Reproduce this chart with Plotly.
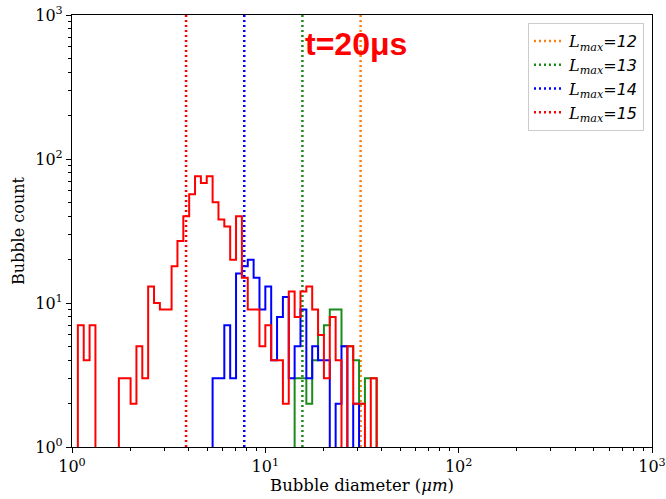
import numpy as np
import plotly.graph_objects as go

# ---- data -------------------------------------------------------------
# 99 log-spaced bins between 1 and 1000 um
bin_edges = np.logspace(0, 3, 100)

# histogram counts (bin index of first value, counts for consecutive bins)
green_start = 38   # L_max = 13
green_counts = [3, 3, 2, 4, 6, 7, 9, 9, 5, 5, 4, 2, 3, 3]

blue_start = 24    # L_max = 14
blue_counts = [3, 3, 7, 3, 16, 18, 20, 15, 9, 13, 4, 8, 11, 3, 5, 9, 3, 5, 4, 4,
               0, 2, 5, 0, 2]

red_start = 1      # L_max = 15
red_counts = [7, 4, 7, 0, 0, 0, 0, 3, 3, 2, 5, 3, 13, 10, 9, 9, 18, 27, 40, 57,
              76, 68, 76, 50, 38, 34, 20, 40, 15, 9, 9, 5, 7, 4, 4, 2, 12, 8, 12,
              13, 9, 6, 3, 8, 4, 0, 5, 2, 2, 0, 3]

# minimum resolved diameter for each L_max (vertical dotted lines)
lmax_levels = [12, 13, 14, 15]
lmax_diam = [31.1, 15.55, 7.78, 3.89]
lmax_colors = ["#ff7f0e", "#1a8c1a", "#0000ff", "#ff0000"]

x_tickvals = [1, 10, 100, 1000]
x_ticktext = ["10<sup>0</sup>", "10<sup>1</sup>", "10<sup>2</sup>", "10<sup>3</sup>"]
y_tickvals = [1, 10, 100, 1000]
y_ticktext = ["10<sup>0</sup>", "10<sup>1</sup>", "10<sup>2</sup>", "10<sup>3</sup>"]
minor_vals = [m * 10 ** d for d in range(3) for m in range(2, 10)]

title_text = "t=20μs"
x_title = "Bubble diameter (<i>μm</i>)"
y_title = "Bubble count"

# ---- figure -----------------------------------------------------------
W, H = 666, 499
L, R, T, B = 72, 14, 15, 52
PW, PH = W - L - R, H - T - B
TINY = 1e-2

fig = go.Figure()


def step_trace(start, counts, color):
    n = len(counts)
    xs = [bin_edges[start]] + list(bin_edges[start:start + n + 1])
    ys = [TINY] + [c if c > 0 else TINY for c in counts] + [TINY]
    return go.Scatter(x=xs, y=ys, mode="lines", line=dict(color=color, width=2, shape="hv"),
                      showlegend=False, hoverinfo="skip")


hists = {13: (green_start, green_counts), 14: (blue_start, blue_counts), 15: (red_start, red_counts)}

for lv, xd, col in zip(lmax_levels, lmax_diam, lmax_colors):
    if lv in hists:
        s, c = hists[lv]
        fig.add_trace(step_trace(s, c, col))
    name = ('<span style="font-family:DejaVu Serif"><i>L</i><sub><i>max</i></sub></span>'
            '<span style="font-family:DejaVu Sans"><i>=%d</i></span>' % lv)
    fig.add_trace(go.Scatter(x=[xd, xd], y=[1, 1000], mode="lines", name=name,
                             line=dict(color=col, width=2.5, dash="2px,3px"),
                             hoverinfo="skip"))

axis_common = dict(
    type="log", showgrid=False, zeroline=False, showline=True, linecolor="black",
    linewidth=1.2, mirror=True, ticks="outside", ticklen=5, tickwidth=1.1,
    tickcolor="black", tickfont=dict(family="DejaVu Serif", size=16, color="black"),
    automargin=False, ticklabeloverflow="allow",
)

fig.update_xaxes(range=[0, 3], tickvals=x_tickvals, ticktext=x_ticktext,
                 minor=dict(tickvals=minor_vals, ticks="outside", ticklen=3,
                            tickwidth=0.9, tickcolor="black"),
                 **axis_common)
fig.update_yaxes(range=[0, 3], tickvals=y_tickvals, ticktext=y_ticktext,
                 minor=dict(tickvals=minor_vals, ticks="outside", ticklen=3,
                            tickwidth=0.9, tickcolor="black"),
                 title=dict(text=y_title,
                            font=dict(family="DejaVu Serif", size=16, color="black"),
                            standoff=6),
                 **axis_common)

fig.add_annotation(text=x_title, xref="paper", yref="paper",
                   x=0.5, y=-(485 - (T + PH)) / PH,
                   xanchor="center", yanchor="middle", showarrow=False,
                   font=dict(family="DejaVu Serif", size=16.5, color="black"))

fig.add_annotation(text="<b>%s</b>" % title_text, xref="paper", yref="paper",
                   x=(303 - L) / PW, y=1 - (44 - T) / PH,
                   xanchor="left", yanchor="middle", showarrow=False,
                   font=dict(family="Liberation Sans", size=32, color="#ff0000"))

fig.update_layout(
    width=W, height=H, margin=dict(l=L, r=R, t=T, b=B, autoexpand=False),
    paper_bgcolor="white", plot_bgcolor="white",
    legend=dict(x=(644 - L) / PW, xanchor="right",
                y=1 - (23 - T) / PH, yanchor="top",
                bgcolor="white", bordercolor="#cccccc", borderwidth=1,
                font=dict(family="DejaVu Sans", size=16, color="black"),
                itemwidth=30, tracegroupgap=0),
)

fig.write_html("out.html")
